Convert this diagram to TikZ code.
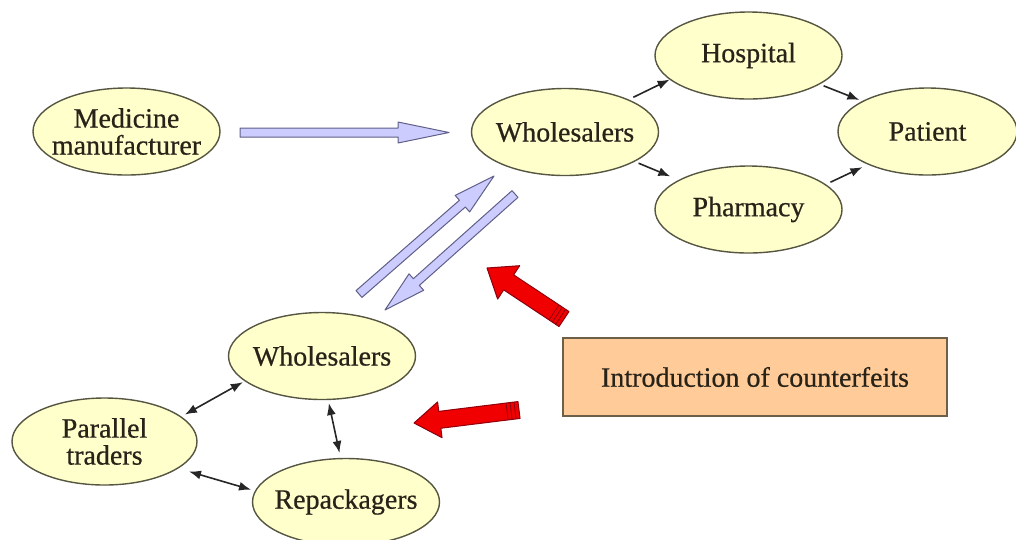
\documentclass[tikz,border=0pt]{standalone}
\usepackage{fontspec}
\setmainfont{Liberation Serif}
\newfontfamily\etiquette{Liberation Serif}[FakeBold=0.6]
\usetikzlibrary{calc,arrows.meta,shapes.geometric}

\definecolor{jaune}{RGB}{255,255,204}
\definecolor{traitjaune}{RGB}{85,85,65}
\definecolor{peche}{RGB}{255,204,153}
\definecolor{traitpeche}{RGB}{110,95,75}
\definecolor{lavande}{RGB}{204,204,255}
\definecolor{traitlavande}{RGB}{95,95,135}
\definecolor{rouge}{RGB}{240,0,0}
\definecolor{traitrouge}{RGB}{140,0,15}
\definecolor{encre}{RGB}{40,35,25}

\tikzstyle{acteur} = [ellipse, draw=traitjaune, fill=jaune, line width=1.4pt, text=encre, align=center, inner sep=-20pt, minimum width=187pt, minimum height=87pt, font=\etiquette\fontsize{28}{27}\selectfont]
\tikzstyle{encadre} = [rectangle, draw=traitpeche, fill=peche, line width=1.4pt, text=encre, minimum width=384pt, minimum height=78pt, font=\etiquette\fontsize{28}{27}\selectfont]
\tikzstyle{fleche} = [draw=black!85, line width=1.6pt, -{Latex[length=12pt,width=9pt]}]
\tikzstyle{fleche2} = [fleche, {Latex[length=12pt,width=9pt]}-{Latex[length=12pt,width=9pt]}]
\tikzstyle{bloc} = [draw=traitlavande, fill=lavande, line width=1pt, line join=round]
\tikzstyle{faux} = [draw=traitrouge, fill=rouge, line width=1pt, line join=round]

% #1 style, #2 queue, #3 pointe, #4 demi-largeur, #5 demi-tete, #6 longueur tete
\newcommand{\flechepleine}[6]{%
  \coordinate (base) at ($(#3)!#6!(#2)$);
  \draw[#1] ($(#2)!#4!90:(#3)$) -- ($(base)!#4!90:(#3)$) -- ($(base)!#5!90:(#3)$) -- (#3)
    -- ($(base)!#5!-90:(#3)$) -- ($(base)!#4!-90:(#3)$) -- ($(#2)!#4!-90:(#3)$) -- cycle;
}

\begin{document}
\begin{tikzpicture}[x=1pt, y=-1pt]

    \useasboundingbox (0,0) rectangle (1016,539);

    %  nodes
    \node[acteur] (MM) at (126.5,131.5) {Medicine\\manufacturer};
    \node[acteur] (W) at (565,132) {Wholesalers};
    \node[acteur] (H) at (748.5,55.5) {Hospital};
    \node[acteur] (Ph) at (748.5,209.5) {Pharmacy};
    \node[acteur, minimum width=179pt] (Pa) at (927.5,131.5) {Patient};

    \node[acteur] (BW) at (322,356) {Wholesalers};
    \node[acteur, minimum width=185pt] (PT) at (104.5,441.5) {Parallel\\traders};
    \node[acteur] (R) at (346,502) {Repackagers};

    \node[encadre] (C) at (755,377) {Introduction of counterfeits};

   %-------------------------------------------------------------
    \draw[fleche, shorten <=5pt] (W.27) -- (H.197);
    \draw[fleche, shorten <=4pt, shorten >=9pt] (W.337) -- (Ph.157);
    \draw[fleche, shorten <=4pt, shorten >=3pt] (H.338) -- (Pa.155);
    \draw[fleche, shorten <=5pt, shorten >=6pt] (Ph.18) -- (Pa.209);

    \draw[fleche2, shorten <=4pt, shorten >=2pt] (PT.18) -- (BW.198);
    \draw[fleche2, shorten <=3pt, shorten >=5pt] (BW.278) -- (R.97);
    \draw[fleche2, shorten <=11pt, shorten >=4pt] (PT.340) -- (R.173);

   %-------------------------------------------------------------
    \coordinate (q1) at (240,132.5);  \coordinate (p1) at (449,132.5);
    \coordinate (q2) at (359,294);    \coordinate (p2) at (494,176);
    \coordinate (q3) at (515,194);    \coordinate (p3) at (385,310);

    \flechepleine{bloc}{q1}{p1}{4.5pt}{10.5pt}{51pt}
    \flechepleine{bloc}{q2}{p2}{4.5pt}{11pt}{42pt}
    \flechepleine{bloc}{q3}{p3}{4.5pt}{11pt}{42pt}

   %-------------------------------------------------------------
    \coordinate (q4) at (564,319);    \coordinate (p4) at (487,268);
    \coordinate (q5) at (519,410);    \coordinate (p5) at (414,423);

    \flechepleine{faux}{q4}{p4}{9pt}{20pt}{26pt}
    \flechepleine{faux}{q5}{p5}{8.5pt}{18pt}{26pt}

    \foreach \d in {4,8,12} {
      \coordinate (r4) at ($(q4)!\d pt!(p4)$);
      \coordinate (r5) at ($(q5)!\d pt!(p5)$);
      \draw[traitrouge, line width=0.8pt] ($(r4)!9pt!90:(p4)$) -- ($(r4)!9pt!-90:(p4)$);
      \draw[traitrouge, line width=0.8pt] ($(r5)!8.5pt!90:(p5)$) -- ($(r5)!8.5pt!-90:(p5)$);
    }

\end{tikzpicture}
\end{document}
